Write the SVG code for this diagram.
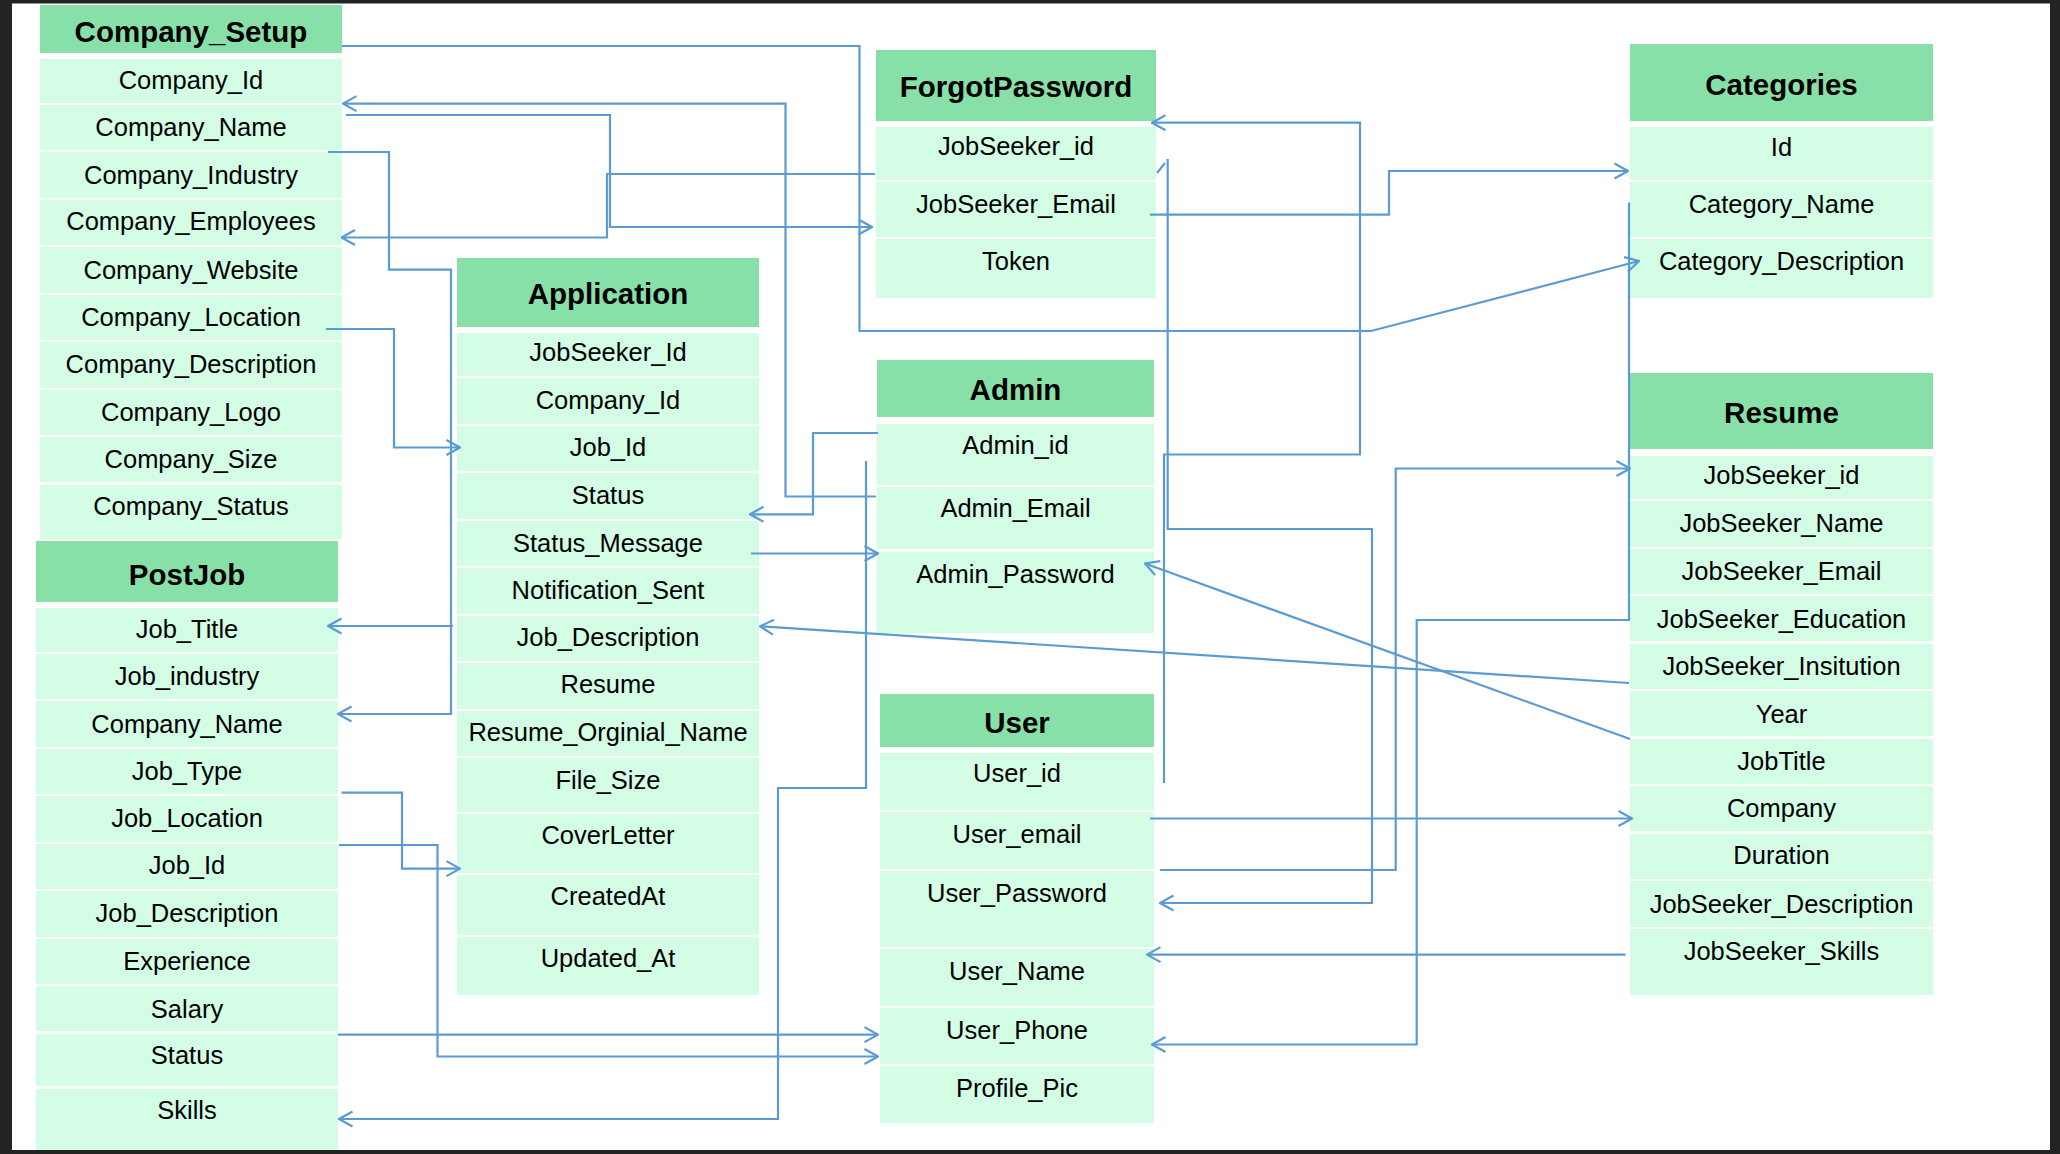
<svg xmlns="http://www.w3.org/2000/svg" width="2060" height="1154" viewBox="0 0 2060 1154">
<style>
.h{fill:#88e0a9}
.r{fill:#d3fde5}
.ht{font-family:"Liberation Sans",Arial,Helvetica,sans-serif;font-weight:bold;font-size:29.5px;fill:#000;text-anchor:middle}
.t{font-family:"Liberation Sans",Arial,Helvetica,sans-serif;font-size:25.5px;fill:#000;text-anchor:middle}
.c path{fill:none;stroke:#5b9bd5;stroke-width:2.2}
</style>
<defs>
<marker id="ah" viewBox="0 0 16 18" refX="15" refY="9" markerWidth="16" markerHeight="18" markerUnits="userSpaceOnUse" orient="auto">
<path d="M1.5,1.5 L15,9 L1.5,16.5" fill="none" stroke="#5b9bd5" stroke-width="2.2"/>
</marker>
</defs>
<rect x="0" y="0" width="2060" height="1154" fill="#232326"/>
<rect x="12" y="3.5" width="2038" height="1146.5" fill="#ffffff"/>

<g id="company_setup">
<rect class="h" x="40" y="5" width="302" height="48"/>
<text class="ht" x="191" y="42">Company_Setup</text>
<rect class="r" x="40" y="59" width="302" height="44"/>
<text class="t" x="191" y="89">Company_Id</text>
<rect class="r" x="40" y="105" width="302" height="45"/>
<text class="t" x="191" y="136">Company_Name</text>
<rect class="r" x="40" y="152" width="302" height="46"/>
<text class="t" x="191" y="184">Company_Industry</text>
<rect class="r" x="40" y="200" width="302" height="45"/>
<text class="t" x="191" y="230">Company_Employees</text>
<rect class="r" x="40" y="247" width="302" height="46"/>
<text class="t" x="191" y="278.5">Company_Website</text>
<rect class="r" x="40" y="295" width="302" height="45"/>
<text class="t" x="191" y="325.5">Company_Location</text>
<rect class="r" x="40" y="342" width="302" height="46"/>
<text class="t" x="191" y="373">Company_Description</text>
<rect class="r" x="40" y="390" width="302" height="45"/>
<text class="t" x="191" y="420.5">Company_Logo</text>
<rect class="r" x="40" y="437" width="302" height="45"/>
<text class="t" x="191" y="468">Company_Size</text>
<rect class="r" x="40" y="485" width="302" height="54"/>
<text class="t" x="191" y="515">Company_Status</text>
</g>

<g id="postjob">
<rect class="h" x="36" y="541" width="302" height="61"/>
<text class="ht" x="187" y="584.5">PostJob</text>
<rect class="r" x="36" y="608" width="302" height="44"/>
<text class="t" x="187" y="638">Job_Title</text>
<rect class="r" x="36" y="654" width="302" height="45"/>
<text class="t" x="187" y="685">Job_industry</text>
<rect class="r" x="36" y="701" width="302" height="46"/>
<text class="t" x="187" y="733">Company_Name</text>
<rect class="r" x="36" y="749" width="302" height="45"/>
<text class="t" x="187" y="780">Job_Type</text>
<rect class="r" x="36" y="796" width="302" height="46"/>
<text class="t" x="187" y="826.5">Job_Location</text>
<rect class="r" x="36" y="844" width="302" height="45"/>
<text class="t" x="187" y="874">Job_Id</text>
<rect class="r" x="36" y="891" width="302" height="46"/>
<text class="t" x="187" y="922">Job_Description</text>
<rect class="r" x="36" y="939" width="302" height="45"/>
<text class="t" x="187" y="970">Experience</text>
<rect class="r" x="36" y="986" width="302" height="45"/>
<text class="t" x="187" y="1017.5">Salary</text>
<rect class="r" x="36" y="1034" width="302" height="52"/>
<text class="t" x="187" y="1064">Status</text>
<rect class="r" x="36" y="1089" width="302" height="61"/>
<text class="t" x="187" y="1119">Skills</text>
</g>

<g id="application">
<rect class="h" x="457" y="258" width="302" height="69"/>
<text class="ht" x="608" y="303.5">Application</text>
<rect class="r" x="457" y="333" width="302" height="43"/>
<text class="t" x="608" y="361">JobSeeker_Id</text>
<rect class="r" x="457" y="378" width="302" height="46"/>
<text class="t" x="608" y="409">Company_Id</text>
<rect class="r" x="457" y="426" width="302" height="45"/>
<text class="t" x="608" y="456">Job_Id</text>
<rect class="r" x="457" y="473" width="302" height="46"/>
<text class="t" x="608" y="503.5">Status</text>
<rect class="r" x="457" y="521" width="302" height="45"/>
<text class="t" x="608" y="552">Status_Message</text>
<rect class="r" x="457" y="568" width="302" height="46"/>
<text class="t" x="608" y="598.5">Notification_Sent</text>
<rect class="r" x="457" y="616" width="302" height="45"/>
<text class="t" x="608" y="646">Job_Description</text>
<rect class="r" x="457" y="663" width="302" height="46"/>
<text class="t" x="608" y="693">Resume</text>
<rect class="r" x="457" y="711" width="302" height="45"/>
<text class="t" x="608" y="741">Resume_Orginial_Name</text>
<rect class="r" x="457" y="758" width="302" height="54"/>
<text class="t" x="608" y="788.5">File_Size</text>
<rect class="r" x="457" y="814" width="302" height="59"/>
<text class="t" x="608" y="844">CoverLetter</text>
<rect class="r" x="457" y="875" width="302" height="60"/>
<text class="t" x="608" y="905">CreatedAt</text>
<rect class="r" x="457" y="937" width="302" height="58"/>
<text class="t" x="608" y="967">Updated_At</text>
</g>

<g id="forgotpassword">
<rect class="h" x="876" y="50" width="280" height="71"/>
<text class="ht" x="1016" y="97">ForgotPassword</text>
<rect class="r" x="876" y="127" width="280" height="53"/>
<text class="t" x="1016" y="155">JobSeeker_id</text>
<rect class="r" x="876" y="182" width="280" height="55"/>
<text class="t" x="1016" y="212.5">JobSeeker_Email</text>
<rect class="r" x="876" y="239" width="280" height="59"/>
<text class="t" x="1016" y="269.5">Token</text>
</g>

<g id="admin">
<rect class="h" x="877" y="360" width="277" height="57"/>
<text class="ht" x="1015.5" y="400">Admin</text>
<rect class="r" x="877" y="424" width="277" height="61"/>
<text class="t" x="1015.5" y="453.5">Admin_id</text>
<rect class="r" x="877" y="487" width="277" height="62"/>
<text class="t" x="1015.5" y="517">Admin_Email</text>
<rect class="r" x="877" y="552" width="277" height="81"/>
<text class="t" x="1015.5" y="582.5">Admin_Password</text>
</g>

<g id="user">
<rect class="h" x="880" y="694" width="274" height="53"/>
<text class="ht" x="1017" y="733">User</text>
<rect class="r" x="880" y="753" width="274" height="57"/>
<text class="t" x="1017" y="781.5">User_id</text>
<rect class="r" x="880" y="812" width="274" height="57"/>
<text class="t" x="1017" y="843">User_email</text>
<rect class="r" x="880" y="871" width="274" height="76"/>
<text class="t" x="1017" y="902">User_Password</text>
<rect class="r" x="880" y="949" width="274" height="57"/>
<text class="t" x="1017" y="979.5">User_Name</text>
<rect class="r" x="880" y="1008" width="274" height="56"/>
<text class="t" x="1017" y="1039">User_Phone</text>
<rect class="r" x="880" y="1066" width="274" height="57"/>
<text class="t" x="1017" y="1097">Profile_Pic</text>
</g>

<g id="categories">
<rect class="h" x="1630" y="44" width="303" height="77"/>
<text class="ht" x="1781.5" y="94.5">Categories</text>
<rect class="r" x="1630" y="127" width="303" height="53"/>
<text class="t" x="1781.5" y="156">Id</text>
<rect class="r" x="1630" y="182" width="303" height="55"/>
<text class="t" x="1781.5" y="212.5">Category_Name</text>
<rect class="r" x="1630" y="239" width="303" height="59"/>
<text class="t" x="1781.5" y="269.5">Category_Description</text>
</g>

<g id="resume">
<rect class="h" x="1630" y="373" width="303" height="76"/>
<text class="ht" x="1781.5" y="423">Resume</text>
<rect class="r" x="1630" y="456" width="303" height="43"/>
<text class="t" x="1781.5" y="484">JobSeeker_id</text>
<rect class="r" x="1630" y="501" width="303" height="46"/>
<text class="t" x="1781.5" y="532">JobSeeker_Name</text>
<rect class="r" x="1630" y="549" width="303" height="45"/>
<text class="t" x="1781.5" y="579.5">JobSeeker_Email</text>
<rect class="r" x="1630" y="596" width="303" height="45"/>
<text class="t" x="1781.5" y="627.5">JobSeeker_Education</text>
<rect class="r" x="1630" y="644" width="303" height="45"/>
<text class="t" x="1781.5" y="675">JobSeeker_Insitution</text>
<rect class="r" x="1630" y="691" width="303" height="45"/>
<text class="t" x="1781.5" y="723">Year</text>
<rect class="r" x="1630" y="739" width="303" height="45"/>
<text class="t" x="1781.5" y="769.5">JobTitle</text>
<rect class="r" x="1630" y="786" width="303" height="45"/>
<text class="t" x="1781.5" y="817">Company</text>
<rect class="r" x="1630" y="834" width="303" height="45"/>
<text class="t" x="1781.5" y="864">Duration</text>
<rect class="r" x="1630" y="881" width="303" height="46"/>
<text class="t" x="1781.5" y="913">JobSeeker_Description</text>
<rect class="r" x="1630" y="929" width="303" height="66"/>
<text class="t" x="1781.5" y="960">JobSeeker_Skills</text>
</g>

<g id="connectors" class="c">
<path d="M342,46 H859.5 V331 H1371 L1639,261" marker-end="url(#ah)"/>
<path d="M876,496.5 H785.5 V103.6 H343" marker-end="url(#ah)"/>
<path d="M346,115 H610 V227 H872" marker-end="url(#ah)"/>
<path d="M875,174 H607 V237.5 H341.5" marker-end="url(#ah)"/>
<path d="M328,152 H389 V269.6 H451 V714 H338" marker-end="url(#ah)"/>
<path d="M453,626 H328" marker-end="url(#ah)"/>
<path d="M326,329 H394 V447.5 H460" marker-end="url(#ah)"/>
<path d="M341.5,792.6 H402 V868.6 H460" marker-end="url(#ah)"/>
<path d="M339,845 H437.5 V1056.5 H878" marker-end="url(#ah)"/>
<path d="M338,1034.6 H878" marker-end="url(#ah)"/>
<path d="M866,461 V788 H778 V1119 H339" marker-end="url(#ah)"/>
<path d="M878,433 H813 V514.3 H750" marker-end="url(#ah)"/>
<path d="M751,553.5 H878" marker-end="url(#ah)"/>
<path d="M1629,683 L760,626.3" marker-end="url(#ah)"/>
<path d="M1630,739 L1145,563.5" marker-end="url(#ah)"/>
<path d="M1164,783 V454.5 H1360 V122.7 H1152" marker-end="url(#ah)"/>
<path d="M1157,173 L1165,163"/>
<path d="M1167.7,159 V529 H1372 V903 H1160" marker-end="url(#ah)"/>
<path d="M1150,214.6 H1389 V171 H1628" marker-end="url(#ah)"/>
<path d="M1629,202.5 V620 H1416.7 V1044.5 H1152" marker-end="url(#ah)"/>
<path d="M1160,870 H1395.7 V468.5 H1630" marker-end="url(#ah)"/>
<path d="M1150,818.5 H1632" marker-end="url(#ah)"/>
<path d="M1625.6,954.6 H1147" marker-end="url(#ah)"/>
</g>
</svg>
